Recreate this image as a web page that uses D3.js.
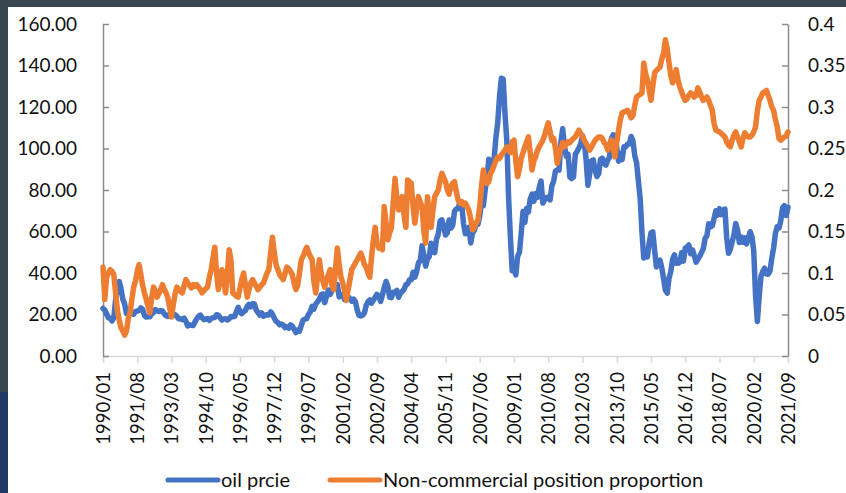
<!DOCTYPE html>
<html>
<head>
<meta charset="utf-8">
<script src="https://cdn.jsdelivr.net/npm/d3@7"></script>
<style>
  html, body { margin: 0; padding: 0; background: #37474f; }
  svg { display: block; }
</style>
</head>
<body>
<svg id="chart" width="846" height="493"></svg>
<script>
// ---------- DATA ----------
const startYear = 1990, endYear = 2021, endMonth = 9;
const categories = [];
for (let y = startYear; y <= endYear; y++) {
  for (let m = 1; m <= 12; m++) {
    if (y === endYear && m > endMonth) break;
    categories.push(y + "/" + String(m).padStart(2, "0"));
  }
}
const tickLabels = ["1990/01","1991/08","1993/03","1994/10","1996/05","1997/12","1999/07","2001/02","2002/09","2004/04","2005/11","2007/06","2009/01","2010/08","2012/03","2013/10","2015/05","2016/12","2018/07","2020/02","2021/09"];
const leftTicks = [0, 20, 40, 60, 80, 100, 120, 140, 160];
const rightTicks = [0, 0.05, 0.1, 0.15, 0.2, 0.25, 0.3, 0.35, 0.4];

const oilPrice = [
  22.9, 22.1, 20.4, 18.4, 18.2, 16.9, 18.6, 27.2, 33.7, 35.9, 32.3, 27.3,
  25.2, 20.5, 19.9, 20.8, 21.2, 20.2, 21.4, 21.7, 21.9, 23.2, 22.5, 19.5,
  18.8, 19.0, 18.9, 20.2, 20.9, 22.4, 21.8, 21.4, 21.9, 21.7, 20.3, 19.4,
  19.1, 20.1, 20.3, 20.3, 19.9, 19.1, 17.9, 18.0, 17.5, 18.2, 16.7, 14.5,
  15.0, 14.8, 14.7, 16.4, 17.9, 19.1, 19.7, 18.4, 17.5, 17.7, 18.1, 17.2,
  18.0, 18.5, 18.6, 19.9, 19.7, 18.4, 17.3, 17.9, 18.0, 17.4, 18.0, 19.0,
  18.9, 19.1, 21.3, 23.5, 21.2, 20.4, 21.3, 21.9, 23.9, 24.9, 23.7, 25.2,
  25.1, 22.2, 20.9, 19.7, 20.8, 19.2, 19.6, 19.9, 19.8, 21.3, 20.2, 18.3,
  16.7, 16.1, 15.0, 15.4, 14.9, 13.7, 14.1, 13.4, 15.0, 14.4, 12.9, 11.3,
  12.5, 12.0, 14.7, 17.3, 17.8, 17.9, 20.1, 21.3, 23.9, 22.6, 25.0, 26.1,
  27.3, 29.4, 29.9, 25.7, 28.8, 31.8, 29.7, 31.3, 33.9, 33.1, 34.4, 28.5,
  29.6, 29.6, 27.2, 27.4, 28.6, 27.6, 26.4, 27.4, 26.2, 22.2, 19.6, 19.3,
  19.7, 20.7, 24.4, 26.2, 27.0, 25.5, 26.9, 28.4, 29.7, 28.8, 26.3, 29.4,
  32.9, 35.9, 33.6, 28.3, 28.1, 30.7, 30.8, 31.6, 28.3, 30.3, 31.1, 32.2,
  34.3, 34.7, 36.7, 36.7, 40.3, 38.0, 40.7, 44.9, 45.9, 53.1, 48.5, 43.3,
  46.8, 48.0, 54.3, 53.0, 49.8, 56.3, 58.7, 65.0, 65.6, 62.4, 58.3, 59.4,
  65.5, 61.6, 62.9, 69.7, 70.9, 71.0, 74.4, 73.0, 63.8, 58.9, 59.1, 62.0,
  54.5, 59.3, 60.4, 63.9, 63.5, 67.5, 74.1, 72.4, 79.9, 85.8, 94.8, 91.7,
  93.0, 95.4, 105.5, 112.6, 125.4, 133.9, 133.4, 116.7, 104.1, 76.6, 57.3, 41.1,
  41.7, 39.1, 48.0, 49.8, 59.2, 69.7, 64.3, 71.1, 69.4, 75.7, 78.0, 74.5,
  78.3, 76.4, 81.2, 84.3, 73.7, 75.3, 76.3, 76.6, 75.2, 81.9, 84.3, 89.2,
  89.6, 89.6, 102.9, 109.5, 100.9, 96.3, 97.3, 86.3, 85.5, 86.3, 97.2, 98.6,
  100.3, 102.2, 106.2, 103.3, 94.7, 82.3, 87.9, 94.1, 94.5, 89.5, 86.5, 87.9,
  94.8, 95.3, 92.9, 92.0, 94.5, 95.8, 104.6, 106.6, 106.3, 100.5, 93.9, 97.6,
  94.6, 100.8, 100.8, 102.1, 102.2, 105.8, 103.6, 96.5, 93.2, 84.4, 75.8, 59.3,
  47.2, 50.6, 47.8, 54.5, 59.3, 59.8, 50.9, 42.9, 45.5, 46.2, 42.4, 37.2,
  31.7, 30.3, 37.5, 40.8, 46.7, 48.8, 44.7, 44.7, 45.2, 49.8, 45.7, 52.0,
  52.5, 53.5, 49.3, 51.1, 48.5, 45.2, 46.6, 48.0, 49.8, 51.6, 56.6, 57.9,
  63.7, 62.2, 62.7, 66.3, 70.0, 67.9, 71.0, 68.1, 70.2, 70.8, 57.0, 49.5,
  51.4, 55.0, 58.2, 63.9, 60.8, 54.7, 57.4, 54.8, 57.0, 54.0, 57.0, 59.9,
  57.5, 50.5, 29.2, 16.6, 28.5, 38.3, 40.7, 42.3, 39.6, 39.4, 40.9, 47.0,
  52.0, 59.0, 62.3, 61.7, 65.2, 71.4, 72.5, 67.7, 71.7
];

const nonCommercial = [
  0.107, 0.068, 0.095, 0.100, 0.104, 0.102, 0.098, 0.076, 0.055, 0.043, 0.034, 0.030,
  0.025, 0.030, 0.045, 0.052, 0.068, 0.083, 0.090, 0.102, 0.110, 0.098, 0.085, 0.076,
  0.068, 0.060, 0.052, 0.070, 0.083, 0.078, 0.071, 0.075, 0.080, 0.086, 0.080, 0.076,
  0.070, 0.058, 0.047, 0.062, 0.075, 0.083, 0.080, 0.078, 0.076, 0.085, 0.092, 0.088,
  0.085, 0.082, 0.086, 0.084, 0.086, 0.083, 0.080, 0.076, 0.079, 0.081, 0.083, 0.095,
  0.104, 0.118, 0.131, 0.100, 0.080, 0.092, 0.104, 0.090, 0.076, 0.100, 0.128, 0.115,
  0.076, 0.074, 0.072, 0.071, 0.082, 0.092, 0.100, 0.086, 0.071, 0.080, 0.088, 0.092,
  0.088, 0.084, 0.080, 0.083, 0.086, 0.088, 0.094, 0.100, 0.104, 0.125, 0.143, 0.125,
  0.110, 0.104, 0.098, 0.095, 0.092, 0.100, 0.107, 0.105, 0.102, 0.098, 0.088, 0.080,
  0.085, 0.100, 0.116, 0.120, 0.126, 0.131, 0.125, 0.120, 0.116, 0.090, 0.076, 0.095,
  0.116, 0.100, 0.090, 0.083, 0.092, 0.098, 0.104, 0.085, 0.080, 0.105, 0.130, 0.110,
  0.095, 0.088, 0.078, 0.067, 0.080, 0.092, 0.104, 0.108, 0.112, 0.116, 0.120, 0.124,
  0.118, 0.110, 0.107, 0.100, 0.095, 0.120, 0.140, 0.155, 0.136, 0.130, 0.132, 0.128,
  0.180, 0.160, 0.140, 0.148, 0.155, 0.185, 0.214, 0.190, 0.176, 0.185, 0.192, 0.170,
  0.155, 0.212, 0.210, 0.208, 0.180, 0.160, 0.178, 0.192, 0.185, 0.180, 0.150, 0.136,
  0.192, 0.170, 0.155, 0.175, 0.192, 0.196, 0.200, 0.212, 0.220, 0.215, 0.210, 0.200,
  0.195, 0.204, 0.208, 0.210, 0.198, 0.188, 0.184, 0.186, 0.182, 0.184, 0.180, 0.175,
  0.165, 0.152, 0.155, 0.160, 0.164, 0.180, 0.205, 0.224, 0.215, 0.208, 0.210, 0.220,
  0.224, 0.230, 0.236, 0.240, 0.238, 0.242, 0.245, 0.248, 0.252, 0.250, 0.245, 0.258,
  0.260, 0.235, 0.216, 0.225, 0.238, 0.245, 0.252, 0.258, 0.264, 0.245, 0.224, 0.235,
  0.240, 0.248, 0.252, 0.256, 0.260, 0.266, 0.274, 0.281, 0.270, 0.260, 0.262, 0.250,
  0.232, 0.242, 0.250, 0.257, 0.252, 0.255, 0.258, 0.257, 0.260, 0.262, 0.264, 0.268,
  0.272, 0.268, 0.264, 0.260, 0.256, 0.252, 0.248, 0.252, 0.256, 0.260, 0.262, 0.264,
  0.264, 0.262, 0.257, 0.255, 0.248, 0.254, 0.260, 0.250, 0.240, 0.258, 0.272, 0.285,
  0.293, 0.294, 0.295, 0.296, 0.292, 0.287, 0.290, 0.302, 0.312, 0.314, 0.315, 0.317,
  0.353, 0.340, 0.333, 0.320, 0.308, 0.325, 0.341, 0.344, 0.346, 0.348, 0.358, 0.365,
  0.381, 0.370, 0.353, 0.338, 0.329, 0.336, 0.345, 0.332, 0.324, 0.318, 0.312, 0.308,
  0.310, 0.314, 0.317, 0.315, 0.312, 0.314, 0.323, 0.318, 0.312, 0.308, 0.310, 0.312,
  0.308, 0.302, 0.296, 0.280, 0.272, 0.271, 0.270, 0.268, 0.266, 0.264, 0.258, 0.254,
  0.252, 0.260, 0.266, 0.270, 0.264, 0.258, 0.252, 0.262, 0.269, 0.266, 0.264, 0.264,
  0.266, 0.270, 0.276, 0.295, 0.308, 0.312, 0.317, 0.318, 0.320, 0.314, 0.308, 0.300,
  0.296, 0.285, 0.276, 0.262, 0.260, 0.262, 0.264, 0.265, 0.270
];

const seriesNames = ["oil prcie", "Non-commercial position proportion"];
const colors = ["#4472C4", "#ED7D31"];

// ---------- DRAW ----------
const svg = d3.select("#chart");
const FONT = "Lato, 'Open Sans', sans-serif";
const TXT = "#111111";

// frame / background
svg.append("rect").attr("x", 0).attr("y", 0).attr("width", 846).attr("height", 493).attr("fill", "#37474f");
svg.append("rect").attr("x", 0).attr("y", 392).attr("width", 8).attr("height", 101).attr("fill", "#1f3864");
svg.append("rect").attr("x", 8).attr("y", 7).attr("width", 838).attr("height", 486).attr("fill", "#ffffff");

const x = d3.scalePoint().domain(categories).range([103, 788]);
const yL = d3.scaleLinear().domain([0, 160]).range([356, 24]);
const yR = d3.scaleLinear().domain([0, 0.4]).range([356, 24]);

// bottom axis
const gx = svg.append("g").attr("transform", "translate(0,356)")
  .call(d3.axisBottom(x).tickValues(tickLabels).tickSizeOuter(0).tickSize(7));
gx.select(".domain").attr("stroke", "#d9d9d9").attr("stroke-width", 1.5);
gx.selectAll(".tick line").attr("stroke", "#d9d9d9").attr("stroke-width", 1.5);
gx.selectAll(".tick text")
  .attr("transform", "rotate(-90)")
  .attr("text-anchor", "end")
  .attr("x", -16).attr("y", 0).attr("dy", "0.35em")
  .attr("font-family", FONT).attr("font-size", 18.5).attr("fill", TXT);

// left axis
const gl = svg.append("g").attr("transform", "translate(103,0)")
  .call(d3.axisLeft(yL).tickValues(leftTicks).tickSize(-6).tickSizeOuter(0).tickPadding(26).tickFormat(d3.format(".2f")));
gl.select(".domain").attr("stroke", "#8c8c8c").attr("stroke-width", 1.5);
gl.selectAll(".tick line").attr("stroke", "#8c8c8c").attr("stroke-width", 1.5);
gl.selectAll(".tick text").attr("font-family", FONT).attr("font-size", 19).attr("fill", TXT);

// right axis
const gr = svg.append("g").attr("transform", "translate(788,0)")
  .call(d3.axisRight(yR).tickValues(rightTicks).tickSize(-6).tickSizeOuter(0).tickPadding(20).tickFormat(d => String(+d.toFixed(2))));
gr.select(".domain").attr("stroke", "#8c8c8c").attr("stroke-width", 1.5);
gr.selectAll(".tick line").attr("stroke", "#8c8c8c").attr("stroke-width", 1.5);
gr.selectAll(".tick text").attr("font-family", FONT).attr("font-size", 19).attr("fill", TXT);

// lines
const lineL = d3.line().x((d, i) => x(categories[i])).y(d => yL(d));
const lineR = d3.line().x((d, i) => x(categories[i])).y(d => yR(d));
svg.append("path").datum(oilPrice).attr("d", lineL)
  .attr("fill", "none").attr("stroke", colors[0]).attr("stroke-width", 5.5)
  .attr("stroke-linejoin", "round").attr("stroke-linecap", "round");
svg.append("path").datum(nonCommercial).attr("d", lineR)
  .attr("fill", "none").attr("stroke", colors[1]).attr("stroke-width", 5.5)
  .attr("stroke-linejoin", "round").attr("stroke-linecap", "round");

// legend
const legendItems = [{x: 168, name: seriesNames[0], c: colors[0]}, {x: 330, name: seriesNames[1], c: colors[1]}];
const lg = svg.append("g");
legendItems.forEach(it => {
  lg.append("line").attr("x1", it.x).attr("x2", it.x + 50).attr("y1", 480).attr("y2", 480)
    .attr("stroke", it.c).attr("stroke-width", 5).attr("stroke-linecap", "round");
  lg.append("text").attr("x", it.x + 53).attr("y", 480).attr("dy", "0.35em")
    .attr("font-family", FONT).attr("font-size", 20).attr("fill", TXT).text(it.name);
});
</script>
</body>
</html>
